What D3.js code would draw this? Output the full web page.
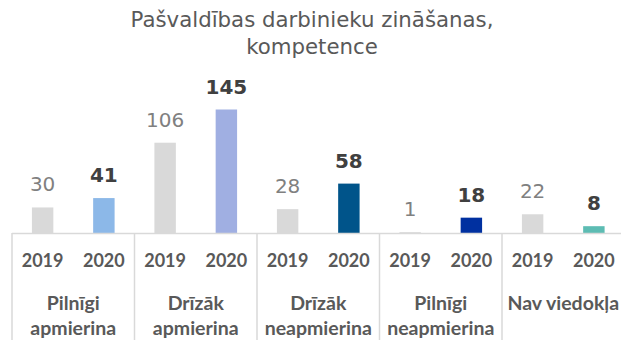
<!DOCTYPE html>
<html>
<head>
<meta charset="utf-8">
<script src="https://cdn.jsdelivr.net/npm/d3@7"></script>
<style>
  html, body { margin: 0; padding: 0; background: #fff; }
  svg { display: block; }
</style>
</head>
<body>
<svg id="chart" width="621" height="340"></svg>
<script>
// Survey answers grouped by category, one bar per year
const titleLines = ["Pašvaldības darbinieku zināšanas,", "kompetence"];
const categories = [
  ["Pilnīgi", "apmierina"],
  ["Drīzāk", "apmierina"],
  ["Drīzāk", "neapmierina"],
  ["Pilnīgi", "neapmierina"],
  ["Nav viedokļa"]
];
const years = ["2019", "2020"];
const values2019 = [30, 106, 28, 1, 22];
const values2020 = [41, 145, 58, 18, 8];
const colors2020 = ["#8cb8e8", "#a0afe2", "#00548a", "#0030a0", "#5dbcb3"];
const color2019 = "#d9d9d9";

const svg = d3.select("#chart");
const baseY = 233;
const left = 12, right = 624.5;

const x0 = d3.scaleBand()
  .domain(d3.range(categories.length))
  .range([left, right])
  .padding(0);

const x1 = d3.scaleBand()
  .domain(years)
  .range([0, x0.bandwidth()])
  .padding(0);

const y = d3.scaleLinear()
  .domain([0, 145])
  .range([baseY, 109.5]);

const barW = x1.bandwidth() * 0.35;

// title
svg.append("g")
  .selectAll("text")
  .data(titleLines)
  .join("text")
  .attr("x", 312)
  .attr("y", (d, i) => 26.5 + i * 27)
  .attr("text-anchor", "middle")
  .attr("font-family", "DejaVu Sans, sans-serif")
  .attr("font-size", 21.3)
  .attr("fill", "#595959")
  .text(d => d);

// rows of bar data
const rows = [];
categories.forEach((c, i) => {
  rows.push({ cat: i, year: "2019", value: values2019[i], color: color2019, bold: false });
  rows.push({ cat: i, year: "2020", value: values2020[i], color: colors2020[i], bold: true });
});
const cx = d => x0(d.cat) + x1(d.year) + x1.bandwidth() / 2;

svg.append("g")
  .selectAll("rect")
  .data(rows)
  .join("rect")
  .attr("x", d => cx(d) - barW / 2)
  .attr("y", d => y(d.value))
  .attr("width", barW)
  .attr("height", d => baseY - y(d.value))
  .attr("fill", d => d.color);

// value labels
svg.append("g")
  .selectAll("text")
  .data(rows)
  .join("text")
  .attr("x", d => cx(d))
  .attr("y", d => y(d.value) - 16)
  .attr("text-anchor", "middle")
  .attr("font-family", "DejaVu Sans, sans-serif")
  .attr("font-size", 20)
  .attr("font-weight", d => d.bold ? "bold" : "normal")
  .attr("fill", d => d.bold ? "#404040" : "#808080")
  .text(d => d.value);

// category axis: baseline and group separators
const axis = svg.append("g");
axis.append("line")
  .attr("x1", left).attr("x2", 621)
  .attr("y1", baseY + 0.5).attr("y2", baseY + 0.5)
  .attr("stroke", "#d9d9d9").attr("stroke-width", 1.5);

axis.selectAll("line.sep")
  .data(d3.range(categories.length + 1))
  .join("line")
  .attr("class", "sep")
  .attr("x1", i => i < categories.length ? x0(i) : right)
  .attr("x2", i => i < categories.length ? x0(i) : right)
  .attr("y1", baseY)
  .attr("y2", 340)
  .attr("stroke", "#d9d9d9").attr("stroke-width", 1.5);

// year labels
axis.selectAll("text.year")
  .data(rows)
  .join("text")
  .attr("class", "year")
  .attr("x", d => cx(d))
  .attr("y", 266.5)
  .attr("text-anchor", "middle")
  .attr("font-family", "Lato, sans-serif")
  .attr("font-weight", "bold")
  .attr("font-size", 18)
  .attr("fill", "#595959")
  .text(d => d.year);

// category labels
const catG = axis.selectAll("text.cat")
  .data(categories)
  .join("text")
  .attr("class", "cat")
  .attr("x", (d, i) => x0(i) + x0.bandwidth() / 2)
  .attr("y", 310)
  .attr("text-anchor", "middle")
  .attr("font-family", "Lato, sans-serif")
  .attr("font-weight", "bold")
  .attr("font-size", 19.5)
  .attr("fill", "#595959");

catG.selectAll("tspan")
  .data(d => d)
  .join("tspan")
  .attr("x", function () { return this.parentNode.getAttribute("x"); })
  .attr("dy", (d, i) => i === 0 ? 0 : 25)
  .text(d => d);
</script>
</body>
</html>
